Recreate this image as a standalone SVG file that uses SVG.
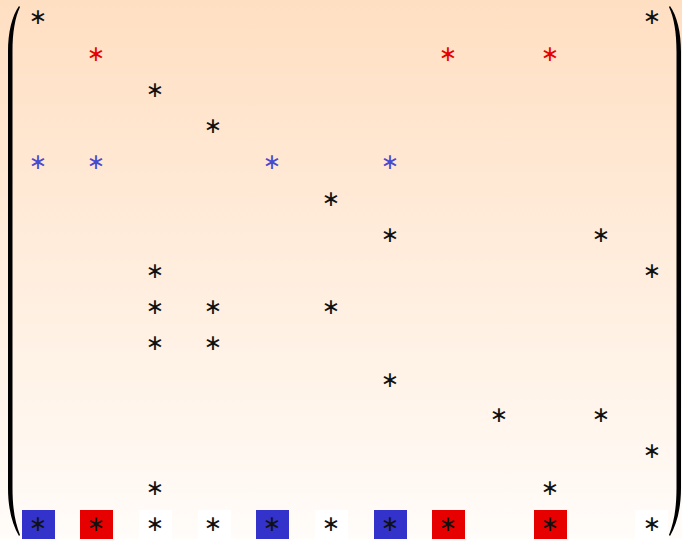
<svg xmlns="http://www.w3.org/2000/svg" width="682" height="539" viewBox="0 0 682 539">
<defs>
<linearGradient id="bg" x1="0" y1="0" x2="0" y2="1">
<stop offset="0" stop-color="#FFDFC2"/>
<stop offset="1" stop-color="#FFFCF9"/>
</linearGradient>
<style>
.a{font-family:"DejaVu Sans",sans-serif;font-size:22px;text-anchor:middle;fill:#111}
.r{fill:#E60000}
.b{fill:#4A4AD0}
.sb{fill:#3333CC}
.sr{fill:#E60000}
.sw{fill:#FFFFFF}
.p{fill:#000}
</style>
</defs>
<rect width="682" height="539" fill="url(#bg)"/>
<g id="brackets">
<path class="p" d="M 19 6 C 12 16, 8 32, 8 52 L 8 488 C 8 508, 12 524, 19 536 L 20 535 C 15 522, 12.5 508, 12.5 488 L 12.5 52 C 12.5 32, 15 18, 20 7 Z"/>
<path class="p" d="M 670 6 C 677 16, 681 32, 681 52 L 681 488 C 681 508, 677 524, 670 536 L 669 535 C 674 522, 676.5 508, 676.5 488 L 676.5 52 C 676.5 32, 674 18, 669 7 Z"/>
</g>
<g id="cells">
<rect class="sb" x="22" y="510" width="33" height="33"/>
<rect class="sr" x="80" y="510" width="33" height="33"/>
<rect class="sw" x="139" y="510" width="33" height="33"/>
<rect class="sw" x="198" y="510" width="33" height="33"/>
<rect class="sb" x="256" y="510" width="33" height="33"/>
<rect class="sw" x="315" y="510" width="33" height="33"/>
<rect class="sb" x="374" y="510" width="33" height="33"/>
<rect class="sr" x="432" y="510" width="33" height="33"/>
<rect class="sr" x="534" y="510" width="33" height="33"/>
<rect class="sw" x="635" y="510" width="33" height="33"/>
</g>
<g id="entries">
<text class="a" x="38" y="24">∗</text>
<text class="a" x="652" y="24">∗</text>
<text class="a r" x="96" y="61">∗</text>
<text class="a r" x="448" y="61">∗</text>
<text class="a r" x="550" y="61">∗</text>
<text class="a" x="155" y="97">∗</text>
<text class="a" x="213" y="133">∗</text>
<text class="a b" x="38" y="169">∗</text>
<text class="a b" x="96" y="169">∗</text>
<text class="a b" x="272" y="169">∗</text>
<text class="a b" x="390" y="169">∗</text>
<text class="a" x="331" y="206">∗</text>
<text class="a" x="390" y="242">∗</text>
<text class="a" x="601" y="242">∗</text>
<text class="a" x="155" y="278">∗</text>
<text class="a" x="652" y="278">∗</text>
<text class="a" x="155" y="314">∗</text>
<text class="a" x="213" y="314">∗</text>
<text class="a" x="331" y="314">∗</text>
<text class="a" x="155" y="350">∗</text>
<text class="a" x="213" y="350">∗</text>
<text class="a" x="390" y="387">∗</text>
<text class="a" x="499" y="422">∗</text>
<text class="a" x="601" y="422">∗</text>
<text class="a" x="652" y="458">∗</text>
<text class="a" x="155" y="495">∗</text>
<text class="a" x="550" y="495">∗</text>
<text class="a" x="38" y="531">∗</text>
<text class="a" x="96" y="531">∗</text>
<text class="a" x="155" y="531">∗</text>
<text class="a" x="213" y="531">∗</text>
<text class="a" x="272" y="531">∗</text>
<text class="a" x="331" y="531">∗</text>
<text class="a" x="390" y="531">∗</text>
<text class="a" x="448" y="531">∗</text>
<text class="a" x="550" y="531">∗</text>
<text class="a" x="652" y="531">∗</text>
</g>
</svg>
